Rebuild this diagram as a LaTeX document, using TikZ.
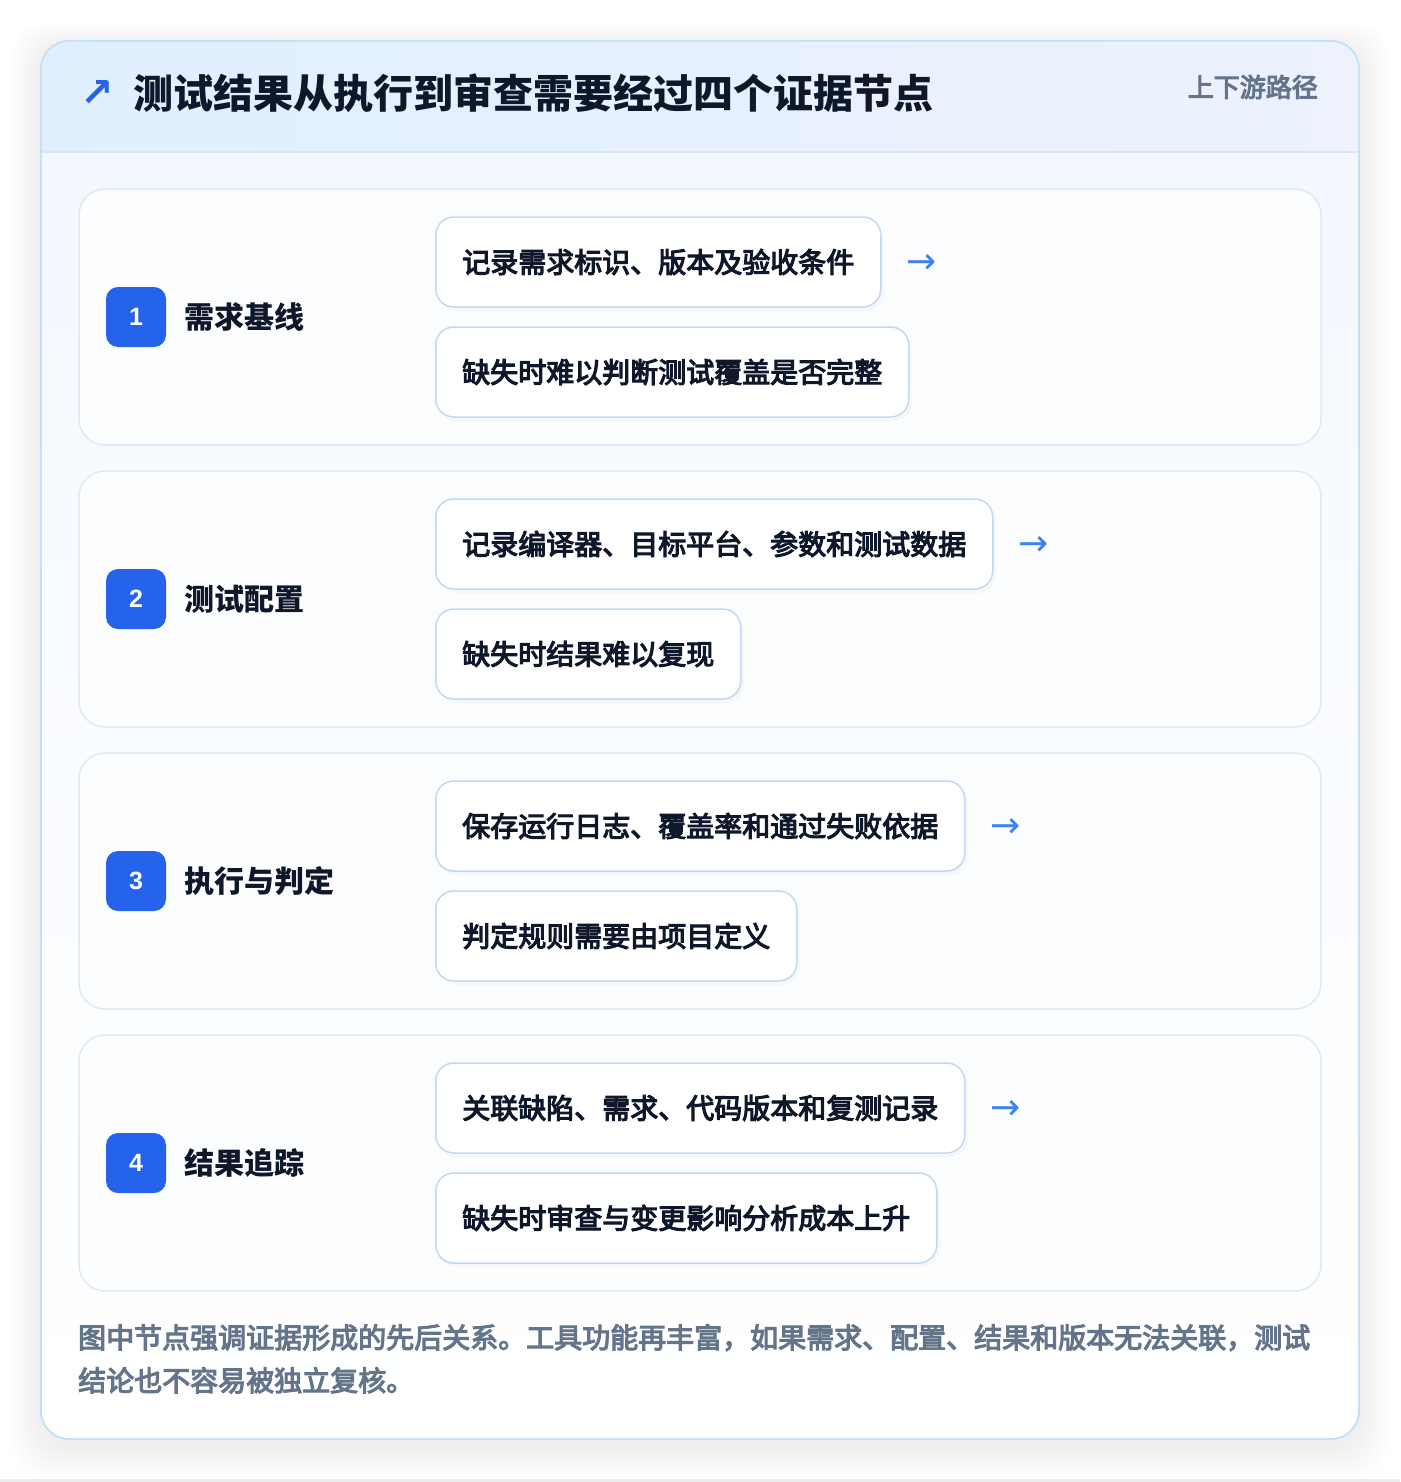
\documentclass[tikz,border=0pt]{standalone}
\usepackage{fontspec}
\setmainfont{Noto Sans CJK SC}
\newfontfamily\medfont{Noto Sans CJK SC}[FakeBold=4]
\newfontfamily\numfont{Liberation Sans}
\newfontfamily\symfont{DejaVu Sans}
\usepackage{tikz}
\usetikzlibrary{positioning}

\definecolor{ink}{HTML}{0F172A}
\definecolor{muted}{HTML}{64748B}
\definecolor{badgeblue}{HTML}{2563EB}
\definecolor{arrowblue}{HTML}{3B82F6}
\definecolor{cardline}{HTML}{BFE1F7}
\definecolor{hdrL}{HTML}{E0EFFE}
\definecolor{hdrR}{HTML}{EDF2FD}
\definecolor{hdrline}{HTML}{D5E7F8}
\definecolor{bodytop}{HTML}{F3F8FF}
\definecolor{sectline}{HTML}{DCEAF8}
\definecolor{sectfill}{HTML}{FCFDFF}
\definecolor{itemline}{HTML}{C2D8F4}
\definecolor{pagegray}{HTML}{EBECEE}

\begin{document}
\begin{tikzpicture}[x=1pt,y=-1pt]

% =========================
% Styles
% =========================
\tikzset{
    card/.style={draw=cardline, line width=1.5pt, rounded corners=28pt},
    sect/.style={draw=sectline, line width=1.5pt, fill=sectfill, rounded corners=26pt},
    badge/.style={fill=badgeblue, rounded corners=12pt, minimum width=60pt, minimum height=60pt,
        inner sep=0pt, text=white, font=\numfont\bfseries\fontsize{25}{28}\selectfont},
    stage/.style={anchor=west, inner sep=0pt, text=ink, font=\bfseries\fontsize{30}{36}\selectfont},
    evidence/.style={draw=itemline, line width=1.5pt, fill=white, rounded corners=18pt, anchor=west,
        minimum height=90pt, inner xsep=26.5pt, text=ink, font=\medfont\fontsize{28}{34}\selectfont,
        preaction={fill=black, opacity=0.025, transform canvas={shift={(3pt,-4pt)}}}},
    flow/.style={inner sep=0pt, text=arrowblue, font=\symfont\fontsize{36}{40}\selectfont}
}

% =========================
% Page and card shadow
% =========================
\fill[white] (0,0) rectangle (1400,1482);
\useasboundingbox (0,0) rectangle (1400,1482);
\fill[pagegray] (0,1479) rectangle (1400,1482);
\foreach \s in {1,...,16} {
    \fill[black, opacity=0.005, rounded corners=30pt]
        (41-\s*1.8, 46-\s*1.4) rectangle (1359+\s*1.8, 1446+\s*2);
}

% =========================
% Card with header band
% =========================
\path[card, top color=bodytop, bottom color=white] (41,41) rectangle (1359,1439);
\begin{scope}
    \clip[rounded corners=28pt] (41,41) rectangle (1359,1439);
    \shade[left color=hdrL, right color=hdrR] (41,41) rectangle (1359,152);
    \draw[hdrline, line width=1.5pt] (41,152) -- (1359,152);
\end{scope}
\draw[card] (41,41) rectangle (1359,1439);

\node[anchor=west, inner sep=0pt, text=badgeblue, font=\symfont\bfseries\fontsize{40}{44}\selectfont]
    (mark) at (80,94) {↗};
\node[anchor=west, inner sep=0pt, text=ink, font=\bfseries\fontsize{40}{48}\selectfont]
    (title) at (133,93) {测试结果从执行到审查需要经过四个证据节点};
\node[anchor=east, inner sep=0pt, text=muted, font=\medfont\fontsize{26}{30}\selectfont]
    (path) at (1318,87) {上下游路径};

% =========================
% Four evidence stages
% =========================
\foreach \lbl/\ea/\eb [count=\i] in {
    需求基线/记录需求标识、版本及验收条件/缺失时难以判断测试覆盖是否完整,
    测试配置/记录编译器、目标平台、参数和测试数据/缺失时结果难以复现,
    执行与判定/保存运行日志、覆盖率和通过失败依据/判定规则需要由项目定义,
    结果追踪/关联缺陷、需求、代码版本和复测记录/缺失时审查与变更影响分析成本上升} {
    \pgfmathsetmacro\secy{189+(\i-1)*282}
    \draw[sect] (79,\secy) rectangle (1321,\secy+256);
    \node[badge] (n\i) at (136,\secy+128) {\i};
    \node[stage] (s\i) at (184,\secy+128) {\lbl};
    \node[evidence] (a\i) at (435,\secy+73) {\ea};
    \node[evidence] (b\i) at (435,\secy+183) {\eb};
    \node[flow, right=25pt of a\i, yshift=-2pt] (f\i) {→};
}

% =========================
% Footer note
% =========================
\node[anchor=base west, align=left, inner sep=0pt, text=muted, font=\medfont\fontsize{28}{43}\selectfont]
    (note) at (78,1391) {图中节点强调证据形成的先后关系。工具功能再丰富，如果需求、配置、结果和版本无法关联，测试\\结论也不容易被独立复核。};

\end{tikzpicture}
\end{document}
